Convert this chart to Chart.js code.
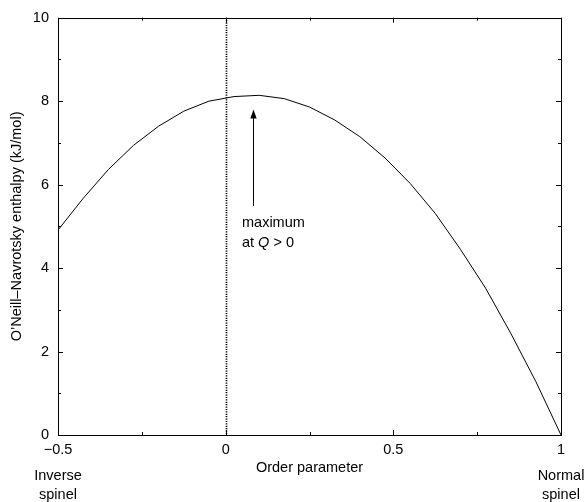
<!DOCTYPE html>
<html>
<head>
<meta charset="utf-8">
<script src="https://cdn.jsdelivr.net/npm/chart.js@4.4.1/dist/chart.umd.min.js"></script>
<style>
  html, body { margin: 0; padding: 0; background: #fff; }
  #c { display: block; }
</style>
</head>
<body>
<canvas id="c" width="586" height="502" style="width:586px;height:502px"></canvas>
<script>
// ---- data ----
const orderParam = [-0.5, -0.425, -0.35, -0.275, -0.2, -0.125, -0.05, 0.025, 0.1, 0.175, 0.25, 0.325, 0.4, 0.475, 0.55, 0.625, 0.7, 0.775, 0.85, 0.925, 1.0];
const enthalpy   = [4.91, 5.67, 6.36, 6.94, 7.40, 7.76, 8.00, 8.11, 8.14, 8.06, 7.86, 7.55, 7.15, 6.64, 6.03, 5.31, 4.45, 3.52, 2.44, 1.28, 0.0];

const xTickValues = [-0.5, -0.25, 0, 0.25, 0.5, 0.75, 1];
const xTickLabels = ['\u22120.5', '', '0', '', '0.5', '', '1'];
const yTickValues = [0, 1, 2, 3, 4, 5, 6, 7, 8, 9, 10];
const yTickLabels = ['0', '', '2', '', '4', '', '6', '', '8', '', '10'];

const xTitle = 'Order parameter';
const yTitle = 'O\u2019Neill\u2013Navrotsky enthalpy (kJ/mol)';
const endLabels = [{ x: -0.5, lines: ['Inverse', 'spinel'] }, { x: 1, lines: ['Normal', 'spinel'] }];
const refLineX = 0;
const arrow = { x: 0.082, yFrom: 5.49, yTo: 7.80 };
const noteLines = ['maximum', 'at '];

const FONT = '"Liberation Sans", Arial, Helvetica, sans-serif';
const FS = 14.5;

const frame = {
  id: 'frame',
  afterDatasetsDraw(chart) {
    const { ctx, chartArea: a, scales: { x, y } } = chart;
    ctx.save();
    ctx.strokeStyle = '#000';
    ctx.setLineDash([1.2, 1.2]);
    ctx.lineWidth = 1.6;
    const xr = Math.round(x.getPixelForValue(refLineX)) + 0.5;
    ctx.beginPath(); ctx.moveTo(xr, a.top); ctx.lineTo(xr, a.bottom); ctx.stroke();
    ctx.setLineDash([]);
    ctx.lineWidth = 1;
    ctx.strokeRect(Math.round(a.left) + 0.5, Math.round(a.top) + 0.5, Math.round(a.right - a.left), Math.round(a.bottom - a.top));
    xTickValues.forEach((v, i) => {
      const px = Math.round(x.getPixelForValue(v)) + 0.5;
      const len = xTickLabels[i] ? 5 : 3;
      ctx.beginPath();
      ctx.moveTo(px, a.bottom); ctx.lineTo(px, a.bottom - len);
      ctx.moveTo(px, a.top); ctx.lineTo(px, a.top + len);
      ctx.stroke();
    });
    yTickValues.forEach((v, i) => {
      const py = Math.round(y.getPixelForValue(v)) + 0.5;
      const len = yTickLabels[i] ? 5 : 3;
      ctx.beginPath();
      ctx.moveTo(a.left, py); ctx.lineTo(a.left + len, py);
      ctx.moveTo(a.right, py); ctx.lineTo(a.right - len, py);
      ctx.stroke();
    });
    const ax = Math.round(x.getPixelForValue(arrow.x)) + 0.5;
    const y0 = y.getPixelForValue(arrow.yFrom);
    const y1 = y.getPixelForValue(arrow.yTo);
    ctx.beginPath(); ctx.moveTo(ax, y0); ctx.lineTo(ax, y1 + 8); ctx.stroke();
    ctx.fillStyle = '#000';
    ctx.beginPath(); ctx.moveTo(ax, y1); ctx.lineTo(ax - 3.2, y1 + 9); ctx.lineTo(ax + 3.2, y1 + 9); ctx.closePath(); ctx.fill();
    ctx.font = FS + 'px ' + FONT;
    ctx.textBaseline = 'middle';
    ctx.textAlign = 'left';
    const tx = 242;
    ctx.fillText(noteLines[0], tx, 223);
    ctx.fillText(noteLines[1], tx, 243);
    const w1 = ctx.measureText(noteLines[1]).width;
    ctx.font = 'italic ' + FS + 'px ' + FONT;
    ctx.fillText('Q', tx + w1, 243);
    const w2 = ctx.measureText('Q').width;
    ctx.font = FS + 'px ' + FONT;
    ctx.fillText(' > 0', tx + w1 + w2, 243);
    ctx.textAlign = 'center';
    endLabels.forEach(l => {
      const px = x.getPixelForValue(l.x);
      ctx.fillText(l.lines[0], px, 476);
      ctx.fillText(l.lines[1], px, 495);
    });
    ctx.restore();
  }
};

new Chart(document.getElementById('c'), {
  type: 'scatter',
  data: {
    datasets: [{
      data: orderParam.map((q, i) => ({ x: q, y: enthalpy[i] })),
      showLine: true,
      borderColor: '#000',
      borderWidth: 1,
      pointRadius: 0,
      tension: 0,
      fill: false
    }]
  },
  options: {
    responsive: false,
    animation: false,
    devicePixelRatio: 1,
    layout: { padding: { top: 16, right: 25, left: 0, bottom: 0 } },
    plugins: { legend: { display: false }, tooltip: { enabled: false } },
    scales: {
      x: {
        type: 'linear', min: -0.5, max: 1,
        afterBuildTicks: s => { s.ticks = xTickValues.map(v => ({ value: v })); },
        afterFit: s => { s.height = 67; },
        grid: { display: false, drawTicks: false },
        border: { display: false },
        ticks: {
          autoSkip: false, maxRotation: 0, color: '#000', padding: 6,
          font: { family: FONT, size: FS },
          callback: (v, i) => xTickLabels[i]
        },
        title: { display: true, text: xTitle, color: '#000', font: { family: FONT, size: FS }, padding: { top: 2, bottom: 25 } }
      },
      y: {
        type: 'linear', min: 0, max: 10,
        afterBuildTicks: s => { s.ticks = yTickValues.map(v => ({ value: v })); },
        afterFit: s => { s.width = 58; },
        grid: { display: false, drawTicks: false },
        border: { display: false },
        ticks: {
          autoSkip: false, color: '#000', padding: 9,
          font: { family: FONT, size: FS },
          callback: (v, i) => yTickLabels[i]
        },
        title: { display: true, text: yTitle, color: '#000', font: { family: FONT, size: FS }, padding: { top: 8.5, bottom: 0 } }
      }
    }
  },
  plugins: [frame]
});
</script>
</body>
</html>
